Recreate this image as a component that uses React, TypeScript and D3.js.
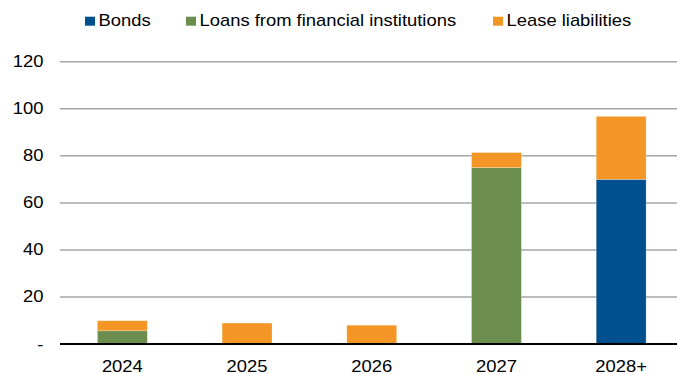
import React from "react";
import * as d3 from "d3";

const categories = ["2024", "2025", "2026", "2027", "2028+"];
const seriesNames = ["Bonds", "Loans from financial institutions", "Lease liabilities"];
const bonds = [0, 0, 0, 0, 70];
const loans = [5.6, 0, 0, 75, 0];
const lease = [4.3, 8.9, 8, 6.4, 26.8];
const yTicks = [0, 20, 40, 60, 80, 100, 120];
const colors = ["#00508F", "#6B8E4E", "#F39626"];

const W = 677;
const H = 374;
const SX = 1.15;
const FONT = "Liberation Sans, Arial, sans-serif";

export default function App() {
  const x = d3
    .scaleBand<string>()
    .domain(categories)
    .range([60, 683.5])
    .paddingInner(0.6)
    .paddingOuter(0.3);
  const y = d3.scaleLinear().domain([0, 120]).range([344, 61.8]);

  const rows = categories.map((c, i) => ({
    cat: c,
    s0: bonds[i],
    s1: loans[i],
    s2: lease[i],
  }));
  const stack = d3.stack<any>().keys(["s0", "s1", "s2"])(rows);

  const legendX = [85, 186, 493];

  return (
    <svg
      width={W}
      height={H}
      style={{ position: "absolute", left: 0, top: 0 }}
      fontFamily={FONT}
    >
      <rect width={W} height={H} fill="#fff" />
      {yTicks.map((t) =>
        t === 0 ? null : (
          <line
            key={"g" + t}
            x1={60}
            x2={W}
            y1={y(t)}
            y2={y(t)}
            stroke="#A6A6A6"
            strokeWidth={1.5}
          />
        )
      )}
      {stack.map((layer, li) =>
        layer.map((d, i) =>
          d[1] - d[0] > 0 ? (
            <rect
              key={li + "-" + i}
              x={x(categories[i])}
              width={x.bandwidth()}
              y={y(d[1])}
              height={y(d[0]) - y(d[1])}
              fill={colors[li]}
              stroke="#ffffff"
              strokeOpacity={0.4}
              strokeWidth={0.6}
            />
          ) : null
        )
      )}
      <line x1={60} x2={W} y1={y(0)} y2={y(0)} stroke="#000" strokeWidth={2} />
      {yTicks.map((t) => (
        <text
          key={"t" + t}
          transform={`translate(43.5,${y(t) + 5.5}) scale(${SX},1)`}
          textAnchor="end"
          fontSize={16}
          fill="#000"
        >
          {t === 0 ? "-" : String(t)}
        </text>
      ))}
      {categories.map((c) => (
        <text
          key={"c" + c}
          transform={`translate(${(x(c) as number) + x.bandwidth() / 2},371.5) scale(${SX},1)`}
          textAnchor="middle"
          fontSize={16}
          fill="#000"
        >
          {c}
        </text>
      ))}
      {seriesNames.map((n, i) => (
        <g key={"l" + n}>
          <rect x={legendX[i]} y={16.7} width={10} height={9} fill={colors[i]} />
          <text
            transform={`translate(${legendX[i] + 13.5},26.3) scale(${SX},1)`}
            fontSize={16}
            fill="#000"
          >
            {n}
          </text>
        </g>
      ))}
    </svg>
  );
}
